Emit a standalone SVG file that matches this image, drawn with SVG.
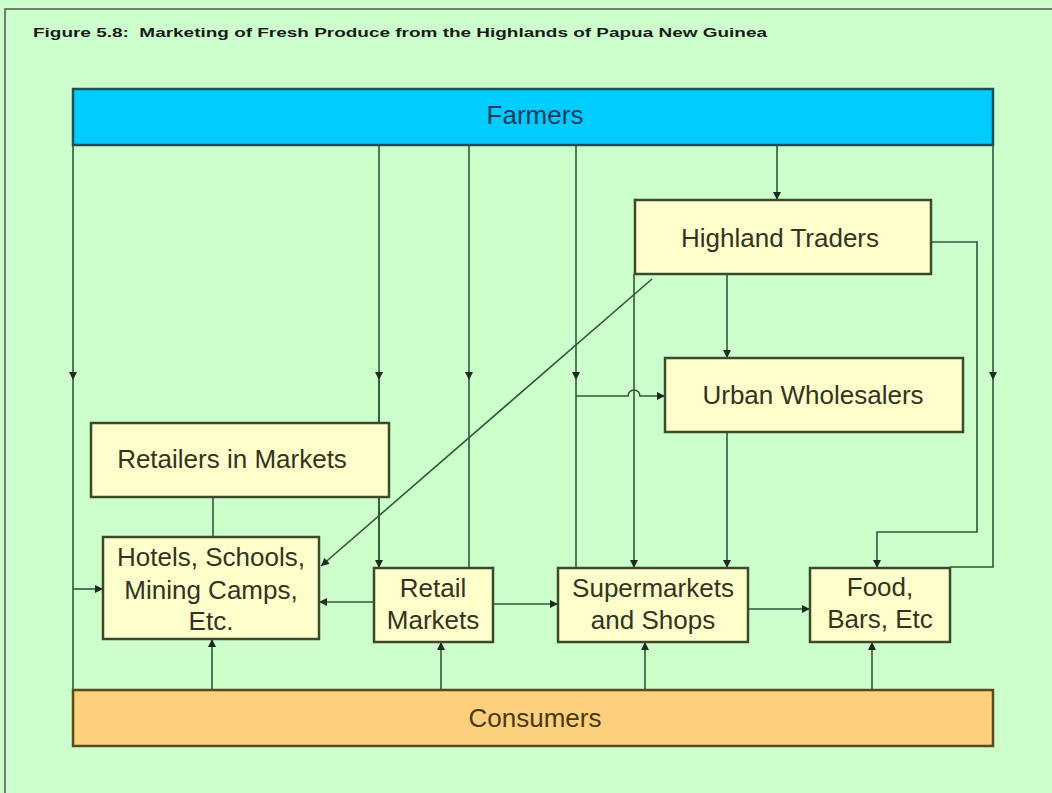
<svg xmlns="http://www.w3.org/2000/svg" width="1052" height="793" viewBox="0 0 1052 793">
<defs>
<marker id="arr" markerUnits="userSpaceOnUse" markerWidth="9" markerHeight="8" refX="8" refY="4" orient="auto">
<path d="M0,0 L8,4 L0,8 z" fill="#1c2a1c"/>
</marker>
<style>
.bg{fill:#ccffcc}
.frame{fill:none;stroke:#555;stroke-width:1.5}
.title{font-family:"Liberation Sans",Arial,sans-serif;font-weight:bold;font-size:13.5px;fill:#1a1a1a;white-space:pre}
.c{fill:none;stroke:#2e5a3a;stroke-width:1.6}
.ca{fill:none;stroke:#2e5a3a;stroke-width:1.6;marker-end:url(#arr)}
.cm{fill:none;stroke:#2e5a3a;stroke-width:1.6;marker-mid:url(#arr)}
.box{fill:#ffffcc;stroke:#3c4a2c;stroke-width:2.5}
.t{font-family:"Liberation Sans",Arial,sans-serif;font-size:26px;fill:#333322;text-anchor:middle}
</style>
</defs>
<rect class="bg" x="0" y="0" width="1052" height="793"/>
<path class="frame" d="M5,800 V9 H1060"/>
<text class="title" x="33" y="37" textLength="734" lengthAdjust="spacingAndGlyphs" xml:space="preserve">Figure 5.8:  Marketing of Fresh Produce from the Highlands of Papua New Guinea</text>
<g id="connectors">
<path class="cm" d="M73,145 V380 V690"/>
<path class="ca" d="M73,589 H103"/>
<path class="cm" d="M379,145 V380 V568"/>
<path class="ca" d="M379,380 V568"/>
<path class="cm" d="M469,145 V380 V568"/>
<path class="cm" d="M576,145 V380 V568"/>
<path class="ca" d="M576,396 H628 A6,6 0 0 1 640,396 H665"/>
<path class="ca" d="M777,145 V200"/>
<path class="ca" d="M993,145 V380"/>
<path class="c" d="M993,380 V567 H950"/>
<path class="ca" d="M727,274 V358"/>
<path class="ca" d="M634,274 V568"/>
<path class="ca" d="M931,242 H977 V532 H877 V568"/>
<path class="ca" d="M652,279 L321,566"/>
<path class="ca" d="M727,432 V568"/>
<path class="c" d="M213,497 V537"/>
<path class="ca" d="M374,602 H319"/>
<path class="ca" d="M493,604 H558"/>
<path class="ca" d="M748,609 H810"/>
<path class="ca" d="M212,690 V639"/>
<path class="ca" d="M441,690 V642"/>
<path class="ca" d="M645,690 V642"/>
<path class="ca" d="M872,690 V642"/>
</g>
<g id="farmers">
<rect x="73" y="89" width="920" height="56" fill="#00ccff" stroke="#1d4f55" stroke-width="2.5"/>
<text class="t" x="535" y="124" style="fill:#1a3a5c">Farmers</text>
</g>
<g id="highland-traders">
<rect class="box" x="635" y="200" width="296" height="74"/>
<text class="t" x="780" y="247">Highland Traders</text>
</g>
<g id="urban-wholesalers">
<rect class="box" x="665" y="358" width="298" height="74"/>
<text class="t" x="813" y="404">Urban Wholesalers</text>
</g>
<g id="retailers-in-markets">
<rect class="box" x="91" y="423" width="298" height="74"/>
<text class="t" x="232" y="468">Retailers in Markets</text>
</g>
<g id="hotels">
<rect class="box" x="103" y="537" width="216" height="102"/>
<text class="t" x="211" y="566">Hotels, Schools,</text>
<text class="t" x="211" y="599">Mining Camps,</text>
<text class="t" x="211" y="630">Etc.</text>
</g>
<g id="retail-markets">
<rect class="box" x="374" y="568" width="119" height="74"/>
<text class="t" x="433" y="597">Retail</text>
<text class="t" x="433" y="629">Markets</text>
</g>
<g id="supermarkets">
<rect class="box" x="558" y="568" width="190" height="74"/>
<text class="t" x="653" y="597">Supermarkets</text>
<text class="t" x="653" y="629">and Shops</text>
</g>
<g id="food-bars">
<rect class="box" x="810" y="568" width="140" height="74"/>
<text class="t" x="880" y="596">Food,</text>
<text class="t" x="880" y="628">Bars, Etc</text>
</g>
<g id="consumers">
<rect x="73" y="690" width="920" height="56" fill="#fcd07c" stroke="#5a4a1c" stroke-width="2.5"/>
<text class="t" x="535" y="727" style="fill:#4a3810">Consumers</text>
</g>
</svg>
